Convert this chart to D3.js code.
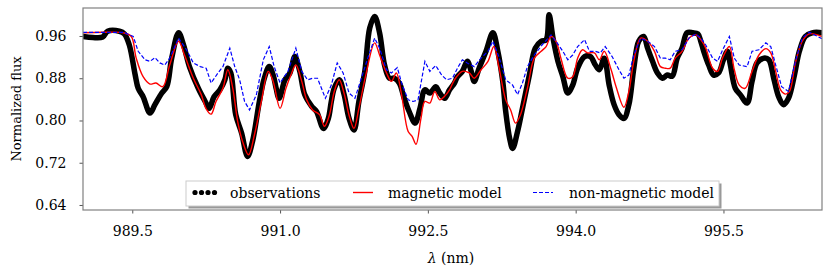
<!DOCTYPE html>
<html>
<head>
<meta charset="utf-8">
<script src="https://cdn.jsdelivr.net/npm/d3@7"></script>
<style>
  body { margin: 0; background: #fff; }
  svg text { font-family: "DejaVu Serif", serif; fill: #000; }
</style>
</head>
<body>
<svg id="chart" width="830" height="277"></svg>
<script>
// wavelengths (nm) and normalized flux
const obsWave = [989.00, 989.10, 989.20, 989.25, 989.37, 989.42, 989.47, 989.53, 989.56, 989.61, 989.68, 989.73, 989.80, 989.85, 989.90, 989.97, 990.02, 990.08, 990.17, 990.24, 990.28, 990.33, 990.39, 990.44, 990.47, 990.50, 990.55, 990.61, 990.67, 990.72, 990.79, 990.84, 990.89, 990.93, 990.96, 990.99, 991.05, 991.10, 991.15, 991.20, 991.25, 991.32, 991.37, 991.44, 991.49, 991.52, 991.55, 991.60, 991.65, 991.70, 991.75, 991.80, 991.86, 991.91, 991.96, 992.01, 992.06, 992.11, 992.16, 992.21, 992.26, 992.31, 992.37, 992.42, 992.47, 992.52, 992.58, 992.62, 992.67, 992.72, 992.77, 992.80, 992.85, 992.90, 992.94, 992.97, 993.02, 993.09, 993.16, 993.21, 993.26, 993.29, 993.33, 993.36, 993.41, 993.46, 993.53, 993.59, 993.65, 993.70, 993.73, 993.77, 993.82, 993.87, 993.92, 993.97, 994.02, 994.09, 994.15, 994.20, 994.24, 994.29, 994.34, 994.39, 994.44, 994.49, 994.54, 994.59, 994.64, 994.69, 994.73, 994.78, 994.83, 994.88, 994.93, 994.98, 995.03, 995.08, 995.13, 995.19, 995.24, 995.27, 995.30, 995.35, 995.40, 995.45, 995.50, 995.54, 995.57, 995.62, 995.67, 995.74, 995.79, 995.84, 995.91, 995.96, 996.01, 996.06, 996.11, 996.16, 996.22, 996.27, 996.33, 996.40, 996.50];
const obsFlux = [0.959, 0.957, 0.958, 0.969, 0.969, 0.964, 0.943, 0.886, 0.861, 0.845, 0.814, 0.830, 0.852, 0.864, 0.918, 0.966, 0.943, 0.902, 0.861, 0.836, 0.823, 0.845, 0.858, 0.877, 0.899, 0.890, 0.811, 0.776, 0.732, 0.760, 0.836, 0.880, 0.902, 0.886, 0.861, 0.842, 0.877, 0.890, 0.921, 0.893, 0.849, 0.827, 0.817, 0.785, 0.804, 0.836, 0.861, 0.877, 0.849, 0.804, 0.782, 0.836, 0.893, 0.975, 0.997, 0.966, 0.905, 0.880, 0.880, 0.871, 0.842, 0.817, 0.795, 0.823, 0.858, 0.852, 0.864, 0.852, 0.842, 0.858, 0.871, 0.883, 0.893, 0.912, 0.893, 0.874, 0.899, 0.931, 0.966, 0.931, 0.874, 0.817, 0.766, 0.747, 0.779, 0.823, 0.886, 0.937, 0.950, 0.953, 1.000, 0.956, 0.912, 0.883, 0.852, 0.867, 0.899, 0.921, 0.921, 0.905, 0.896, 0.918, 0.867, 0.830, 0.811, 0.804, 0.830, 0.899, 0.950, 0.959, 0.937, 0.912, 0.890, 0.880, 0.886, 0.884, 0.918, 0.937, 0.966, 0.966, 0.964, 0.950, 0.931, 0.905, 0.886, 0.890, 0.915, 0.931, 0.905, 0.861, 0.849, 0.833, 0.874, 0.909, 0.918, 0.915, 0.880, 0.845, 0.830, 0.842, 0.886, 0.931, 0.959, 0.966, 0.966];

const magWave = [989.00, 989.20, 989.41, 989.49, 989.54, 989.61, 989.68, 989.74, 989.81, 989.88, 989.97, 990.03, 990.12, 990.20, 990.25, 990.30, 990.35, 990.42, 990.47, 990.52, 990.57, 990.62, 990.68, 990.74, 990.81, 990.88, 990.93, 991.00, 991.06, 991.11, 991.16, 991.22, 991.27, 991.33, 991.40, 991.45, 991.50, 991.55, 991.60, 991.65, 991.70, 991.75, 991.80, 991.87, 991.96, 992.01, 992.08, 992.13, 992.18, 992.23, 992.30, 992.34, 992.38, 992.43, 992.47, 992.52, 992.57, 992.62, 992.67, 992.72, 992.77, 992.85, 992.92, 992.97, 993.04, 993.11, 993.17, 993.22, 993.29, 993.34, 993.39, 993.44, 993.51, 993.58, 993.65, 993.70, 993.75, 993.80, 993.85, 993.92, 993.97, 994.02, 994.07, 994.12, 994.19, 994.24, 994.29, 994.36, 994.41, 994.49, 994.54, 994.59, 994.66, 994.73, 994.80, 994.86, 994.91, 994.96, 995.01, 995.08, 995.15, 995.22, 995.27, 995.32, 995.39, 995.44, 995.49, 995.56, 995.61, 995.66, 995.72, 995.79, 995.86, 995.93, 995.98, 996.03, 996.08, 996.13, 996.17, 996.23, 996.30, 996.37, 996.50];
const magFlux = [0.966, 0.967, 0.966, 0.959, 0.918, 0.883, 0.869, 0.871, 0.864, 0.905, 0.950, 0.924, 0.880, 0.849, 0.822, 0.812, 0.836, 0.861, 0.896, 0.861, 0.798, 0.760, 0.735, 0.773, 0.836, 0.893, 0.874, 0.823, 0.861, 0.886, 0.905, 0.874, 0.839, 0.820, 0.811, 0.789, 0.810, 0.855, 0.877, 0.851, 0.810, 0.785, 0.823, 0.886, 0.947, 0.924, 0.890, 0.874, 0.890, 0.852, 0.779, 0.770, 0.755, 0.804, 0.836, 0.833, 0.855, 0.839, 0.846, 0.858, 0.877, 0.893, 0.890, 0.880, 0.896, 0.912, 0.940, 0.902, 0.839, 0.820, 0.795, 0.811, 0.861, 0.918, 0.931, 0.940, 0.959, 0.950, 0.918, 0.880, 0.883, 0.918, 0.934, 0.928, 0.928, 0.915, 0.931, 0.896, 0.864, 0.825, 0.855, 0.912, 0.956, 0.950, 0.931, 0.902, 0.899, 0.899, 0.918, 0.931, 0.956, 0.962, 0.953, 0.937, 0.899, 0.893, 0.918, 0.940, 0.896, 0.867, 0.861, 0.893, 0.924, 0.936, 0.928, 0.893, 0.858, 0.850, 0.855, 0.909, 0.950, 0.964, 0.959];

const nonMagWave = [989.00, 989.41, 989.51, 989.56, 989.63, 989.68, 989.73, 989.78, 989.83, 989.88, 989.97, 990.05, 990.12, 990.19, 990.25, 990.30, 990.37, 990.42, 990.49, 990.54, 990.59, 990.64, 990.69, 990.76, 990.83, 990.89, 990.94, 991.00, 991.08, 991.16, 991.22, 991.28, 991.33, 991.38, 991.42, 991.46, 991.52, 991.58, 991.64, 991.70, 991.76, 991.82, 991.89, 991.96, 992.01, 992.08, 992.13, 992.19, 992.24, 992.30, 992.35, 992.40, 992.47, 992.52, 992.58, 992.64, 992.69, 992.75, 992.80, 992.85, 992.90, 992.97, 993.04, 993.11, 993.16, 993.22, 993.29, 993.36, 993.41, 993.46, 993.51, 993.58, 993.66, 993.75, 993.80, 993.87, 993.92, 993.97, 994.02, 994.09, 994.14, 994.20, 994.25, 994.30, 994.37, 994.44, 994.49, 994.54, 994.59, 994.66, 994.73, 994.80, 994.86, 994.91, 994.96, 995.01, 995.08, 995.15, 995.22, 995.27, 995.32, 995.39, 995.44, 995.50, 995.56, 995.61, 995.66, 995.74, 995.79, 995.86, 995.93, 995.98, 996.03, 996.09, 996.16, 996.23, 996.30, 996.37, 996.50];
const nonMagFlux = [0.967, 0.967, 0.959, 0.931, 0.915, 0.912, 0.919, 0.909, 0.905, 0.918, 0.956, 0.934, 0.909, 0.902, 0.899, 0.871, 0.890, 0.902, 0.937, 0.902, 0.877, 0.836, 0.820, 0.849, 0.915, 0.940, 0.902, 0.871, 0.893, 0.937, 0.893, 0.877, 0.880, 0.880, 0.861, 0.842, 0.867, 0.909, 0.890, 0.852, 0.842, 0.877, 0.918, 0.956, 0.937, 0.896, 0.890, 0.900, 0.867, 0.839, 0.836, 0.839, 0.912, 0.893, 0.904, 0.886, 0.877, 0.880, 0.899, 0.915, 0.909, 0.902, 0.918, 0.931, 0.950, 0.921, 0.877, 0.867, 0.849, 0.871, 0.902, 0.924, 0.943, 0.962, 0.950, 0.931, 0.915, 0.924, 0.940, 0.953, 0.931, 0.931, 0.928, 0.940, 0.921, 0.896, 0.880, 0.886, 0.924, 0.956, 0.950, 0.940, 0.918, 0.918, 0.915, 0.931, 0.934, 0.956, 0.964, 0.956, 0.943, 0.918, 0.912, 0.937, 0.959, 0.918, 0.905, 0.902, 0.931, 0.934, 0.947, 0.940, 0.905, 0.864, 0.855, 0.912, 0.956, 0.967, 0.955];

const xTicks = [989.5, 991.0, 992.5, 994.0, 995.5];
const yTicks = [0.64, 0.72, 0.80, 0.88, 0.96];
const seriesNames = ["observations", "magnetic model", "non-magnetic model"];

// Set up the SVG container
const svg = d3.select("#chart");
const margin = { top: 8, right: 8, bottom: 67, left: 83 };
const width = 830 - margin.left - margin.right;
const height = 277 - margin.top - margin.bottom;

const g = svg.append("g")
    .attr("transform", `translate(${margin.left},${margin.top})`);

// Scales
const xScale = d3.scaleLinear().domain([989.0, 996.5]).range([0, width]);
const yScale = d3.scaleLinear().domain([0.6305, 1.013]).range([height, 0]);

g.append("clipPath").attr("id", "clip")
    .append("rect").attr("width", width).attr("height", height);

// Axes
const xAxis = d3.axisBottom(xScale).tickValues(xTicks).tickFormat(d3.format(".1f")).tickSize(3.5).tickPadding(13);
const yAxis = d3.axisLeft(yScale).tickValues(yTicks).tickFormat(d3.format(".2f")).tickSize(3.5).tickPadding(13);

const gx = g.append("g").attr("transform", `translate(0,${height})`).call(xAxis);
const gy = g.append("g").call(yAxis);
[gx, gy].forEach(ax => {
    ax.select(".domain").remove();
    ax.selectAll(".tick line").attr("stroke", "#555");
    ax.selectAll(".tick text").style("font-size", "14px").style("font-family", "DejaVu Serif");
});

// Lines
function toPoints(xs, ys) { return xs.map((x, i) => [x, ys[i]]); }
const line = d3.line()
    .x(d => xScale(d[0]))
    .y(d => yScale(d[1]))
    .curve(d3.curveCatmullRom.alpha(0.5));

const plot = g.append("g").attr("clip-path", "url(#clip)");

plot.append("path")
    .datum(toPoints(obsWave, obsFlux))
    .attr("fill", "none")
    .attr("stroke", "#000")
    .attr("stroke-width", 5.5)
    .attr("stroke-linejoin", "round")
    .attr("stroke-linecap", "round")
    .attr("d", line);

plot.append("path")
    .datum(toPoints(magWave, magFlux))
    .attr("fill", "none")
    .attr("stroke", "#ff0000")
    .attr("stroke-width", 1.4)
    .attr("d", line);

plot.append("path")
    .datum(toPoints(nonMagWave, nonMagFlux))
    .attr("fill", "none")
    .attr("stroke", "#0000ff")
    .attr("stroke-width", 1.2)
    .attr("stroke-dasharray", "4,2")
    .attr("d", line.curve(d3.curveLinear));

// Frame
g.append("rect")
    .attr("width", width).attr("height", height)
    .attr("fill", "none").attr("stroke", "#808080").attr("stroke-width", 1.2);

// Legend (with shadow)
const legend = svg.append("g").attr("transform", "translate(186,181)");
legend.append("rect").attr("x", 2.5).attr("y", 2.5).attr("width", 533).attr("height", 25).attr("fill", "#999");
legend.append("rect").attr("width", 533).attr("height", 25).attr("fill", "#fff").attr("stroke", "#ccc").attr("stroke-width", 1);

[9, 15.5, 22, 28.5].forEach(dx => {
    legend.append("circle").attr("cx", dx).attr("cy", 11.5).attr("r", 2.6).attr("fill", "#000");
});
legend.append("line").attr("x1", 167).attr("x2", 187).attr("y1", 11.5).attr("y2", 11.5)
    .attr("stroke", "#ff0000").attr("stroke-width", 1.4);
legend.append("line").attr("x1", 347).attr("x2", 367).attr("y1", 11.5).attr("y2", 11.5)
    .attr("stroke", "#0000ff").attr("stroke-width", 1.2).attr("stroke-dasharray", "4,2");

const labelX = [44, 202, 383];
seriesNames.forEach((name, i) => {
    legend.append("text").attr("x", labelX[i]).attr("y", 16.5).style("font-size", "14px").text(name);
});

// Axis labels
svg.append("text")
    .attr("transform", `translate(451,263)`)
    .style("text-anchor", "middle")
    .style("font-size", "14px")
    .html('<tspan font-style="italic">λ</tspan> (nm)');

svg.append("text")
    .attr("transform", `translate(21,${margin.top + height / 2}) rotate(-90)`)
    .style("text-anchor", "middle")
    .style("font-size", "13px")
    .text("Normalized flux");
</script>
</body>
</html>
